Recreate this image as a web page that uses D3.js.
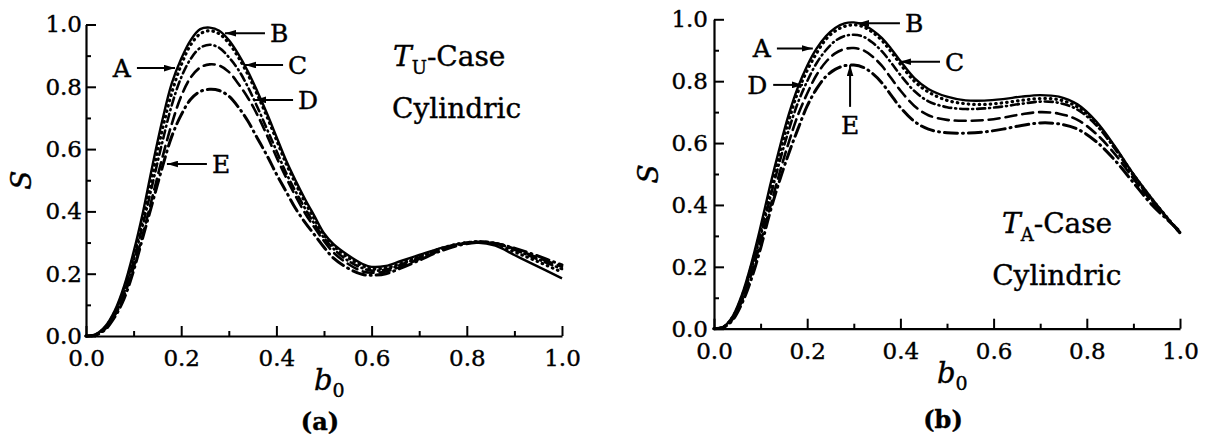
<!DOCTYPE html>
<html>
<head>
<meta charset="utf-8">
<script src="https://cdn.jsdelivr.net/npm/d3@7"></script>
<style>
  body { margin: 0; background: #fff; }
  svg text { font-family: "DejaVu Serif", "Liberation Serif", serif; fill: #000; stroke: #000; stroke-width: 0.4px; }
</style>
</head>
<body>
<svg id="chart" width="1205" height="440"></svg>
<script>
// b0 sample positions
let bLeft = [0, 0.02, 0.04, 0.06, 0.08, 0.10, 0.12, 0.14, 0.16, 0.18, 0.20, 0.22, 0.24, 0.26, 0.28, 0.30,
  0.32, 0.34, 0.36, 0.38, 0.40, 0.42, 0.44, 0.46, 0.48, 0.50, 0.52, 0.55, 0.58, 0.60, 0.63, 0.66, 0.70,
  0.74, 0.78, 0.82, 0.86, 0.90, 0.94, 1.00]
let bRight = [0, 0.02, 0.04, 0.06, 0.08, 0.10, 0.12, 0.14, 0.16, 0.18, 0.20, 0.22, 0.24, 0.26, 0.28, 0.30,
  0.32, 0.34, 0.36, 0.38, 0.40, 0.43, 0.46, 0.50, 0.54, 0.58, 0.62, 0.66, 0.70, 0.74, 0.78, 0.82, 0.86,
  0.90, 0.94, 1.00]

// (a) T_U-Case
let leftA = [0, 0.005, 0.03, 0.08, 0.16, 0.27, 0.40, 0.55, 0.69, 0.81, 0.89, 0.95, 0.985, 0.99, 0.98, 0.95,
  0.905, 0.85, 0.785, 0.715, 0.64, 0.565, 0.50, 0.44, 0.385, 0.33, 0.295, 0.26, 0.232, 0.222, 0.225, 0.24,
  0.26, 0.28, 0.295, 0.30, 0.29, 0.26, 0.23, 0.185]
let leftB = [0, 0.004, 0.027, 0.075, 0.15, 0.255, 0.38, 0.52, 0.66, 0.78, 0.87, 0.935, 0.97, 0.98, 0.97, 0.94,
  0.895, 0.84, 0.775, 0.705, 0.63, 0.555, 0.49, 0.43, 0.375, 0.325, 0.29, 0.252, 0.226, 0.216, 0.218, 0.232,
  0.255, 0.278, 0.295, 0.302, 0.295, 0.27, 0.245, 0.205]
let leftC = [0, 0.004, 0.025, 0.07, 0.14, 0.24, 0.36, 0.49, 0.62, 0.74, 0.83, 0.89, 0.925, 0.935, 0.925, 0.895,
  0.855, 0.80, 0.735, 0.665, 0.595, 0.525, 0.465, 0.41, 0.36, 0.315, 0.28, 0.242, 0.218, 0.21, 0.213, 0.228,
  0.252, 0.276, 0.294, 0.303, 0.298, 0.277, 0.252, 0.215]
let leftD = [0, 0.003, 0.022, 0.065, 0.13, 0.22, 0.33, 0.45, 0.57, 0.68, 0.77, 0.83, 0.862, 0.872, 0.868, 0.848,
  0.81, 0.765, 0.71, 0.645, 0.575, 0.51, 0.45, 0.395, 0.348, 0.305, 0.268, 0.232, 0.208, 0.203, 0.207, 0.222,
  0.247, 0.272, 0.292, 0.302, 0.298, 0.28, 0.257, 0.222]
let leftE = [0, 0.003, 0.02, 0.06, 0.12, 0.21, 0.32, 0.43, 0.54, 0.64, 0.71, 0.76, 0.785, 0.792, 0.788, 0.77,
  0.735, 0.69, 0.635, 0.58, 0.52, 0.465, 0.41, 0.365, 0.325, 0.285, 0.25, 0.218, 0.198, 0.195, 0.2, 0.217,
  0.243, 0.27, 0.29, 0.3, 0.297, 0.282, 0.262, 0.228]

// (b) T_A-Case
let rightA = [0, 0.006, 0.04, 0.11, 0.21, 0.33, 0.46, 0.58, 0.69, 0.78, 0.85, 0.905, 0.945, 0.972, 0.987, 0.99,
  0.983, 0.965, 0.94, 0.905, 0.865, 0.81, 0.775, 0.75, 0.738, 0.737, 0.742, 0.75, 0.755, 0.75, 0.725, 0.67,
  0.59, 0.50, 0.42, 0.308]
let rightB = [0, 0.005, 0.037, 0.103, 0.2, 0.315, 0.44, 0.56, 0.67, 0.765, 0.835, 0.89, 0.935, 0.962, 0.977, 0.982,
  0.976, 0.958, 0.932, 0.895, 0.855, 0.80, 0.765, 0.738, 0.727, 0.725, 0.73, 0.738, 0.744, 0.74, 0.717, 0.664,
  0.586, 0.498, 0.418, 0.31]
let rightC = [0, 0.005, 0.034, 0.097, 0.19, 0.30, 0.42, 0.535, 0.64, 0.73, 0.80, 0.858, 0.9, 0.93, 0.946, 0.95,
  0.944, 0.925, 0.897, 0.86, 0.82, 0.768, 0.735, 0.716, 0.71, 0.712, 0.718, 0.727, 0.734, 0.73, 0.708, 0.658,
  0.582, 0.494, 0.415, 0.31]
let rightD = [0, 0.004, 0.031, 0.09, 0.176, 0.28, 0.39, 0.5, 0.6, 0.69, 0.76, 0.82, 0.862, 0.89, 0.904, 0.907,
  0.9, 0.88, 0.85, 0.81, 0.77, 0.72, 0.69, 0.675, 0.672, 0.674, 0.682, 0.693, 0.70, 0.695, 0.675, 0.63,
  0.565, 0.485, 0.41, 0.312]
let rightE = [0, 0.004, 0.028, 0.082, 0.16, 0.26, 0.375, 0.475, 0.565, 0.645, 0.72, 0.775, 0.815, 0.838, 0.85, 0.852,
  0.845, 0.825, 0.795, 0.755, 0.715, 0.67, 0.645, 0.633, 0.632, 0.636, 0.645, 0.657, 0.665, 0.662, 0.645, 0.605,
  0.545, 0.472, 0.40, 0.315]

let curveNames = ['A', 'B', 'C', 'D', 'E']
let xTicks = [0, 0.2, 0.4, 0.6, 0.8, 1.0]
let yTicks = [0, 0.2, 0.4, 0.6, 0.8, 1.0]
let minorTicks = [0.1, 0.3, 0.5, 0.7, 0.9]

// arrow labels: text, arrow tail (x0,y), arrow tip (x1,y), side of text
let leftLabels = [
  { name: 'A', x0: 0.107, x1: 0.187, y: 0.860, side: 'left' },
  { name: 'B', x0: 0.376, x1: 0.292, y: 0.972, side: 'right' },
  { name: 'C', x0: 0.414, x1: 0.334, y: 0.870, side: 'right' },
  { name: 'D', x0: 0.435, x1: 0.355, y: 0.758, side: 'right' },
  { name: 'E', x0: 0.254, x1: 0.170, y: 0.552, side: 'right' }
]
let rightLabels = [
  { name: 'A', x0: 0.135, x1: 0.212, y: 0.906, side: 'left' },
  { name: 'B', x0: 0.399, x1: 0.309, y: 0.987, side: 'right' },
  { name: 'C', x0: 0.485, x1: 0.399, y: 0.863, side: 'right' },
  { name: 'D', x0: 0.127, x1: 0.191, y: 0.788, side: 'left' },
  { name: 'E', x0: 0.292, x1: 0.292, y0: 0.717, y1: 0.852, side: 'below' }
]

let styles = {
  A: { dash: null, width: 2.4 },
  B: { dash: '0.5,5', width: 3.2 },
  C: { dash: '8,4,1,4', width: 2.6 },
  D: { dash: '11,6', width: 2.6 },
  E: { dash: '13,5,1,5', width: 3 }
}

let svg = d3.select('#chart')

svg.append('defs').append('marker')
  .attr('id', 'head')
  .attr('viewBox', '0 0 10 6')
  .attr('refX', 10).attr('refY', 3)
  .attr('markerWidth', 11).attr('markerHeight', 7)
  .attr('markerUnits', 'userSpaceOnUse')
  .attr('orient', 'auto')
  .append('path')
  .attr('d', 'M0,0 L10,3 L0,6 Z')
  .attr('fill', '#000')

let drawPanel = (opts) => {
  let x = d3.scaleLinear().domain([0, 1]).range(opts.xRange)
  let y = d3.scaleLinear().domain([0, 1]).range(opts.yRange)
  let g = svg.append('g')
  let y0 = opts.yRange[0]
  let x0 = opts.xRange[0]

  // minor ticks
  g.append('g')
    .attr('transform', 'translate(0,' + y0 + ')')
    .call(d3.axisBottom(x).tickValues(minorTicks).tickSize(-5).tickFormat(''))
    .call(a => a.select('.domain').remove())
  g.append('g')
    .attr('transform', 'translate(' + x0 + ',0)')
    .call(d3.axisLeft(y).tickValues(minorTicks).tickSize(-5).tickFormat(''))
    .call(a => a.select('.domain').remove())

  g.append('g')
    .attr('transform', 'translate(0,' + y0 + ')')
    .call(d3.axisBottom(x).tickValues(xTicks).tickSize(-10).tickSizeOuter(0)
      .tickPadding(14).tickFormat(d3.format('.1f')))
  g.append('g')
    .attr('transform', 'translate(' + x0 + ',0)')
    .call(d3.axisLeft(y).tickValues(yTicks).tickSize(-10).tickSizeOuter(0)
      .tickPadding(opts.yPad).tickFormat(d3.format('.1f')))

  g.selectAll('.tick line').attr('stroke', '#000').attr('stroke-width', 2)
  g.selectAll('.domain').attr('stroke', '#000').attr('stroke-width', 2.2)
  g.selectAll('.tick text')
    .style('font-family', '"DejaVu Serif", serif')
    .style('font-size', '23px')
    .attr('fill', '#000')

  // curves
  let line = d3.line()
    .x((d) => x(d[0]))
    .y((d) => y(d[1]))
    .curve(d3.curveCatmullRom.alpha(0.5))

  curveNames.forEach((name, i) => {
    let pts = opts.b.map((b, k) => [b, opts.series[i][k]])
    g.append('path')
      .attr('d', line(pts))
      .attr('fill', 'none')
      .attr('stroke', '#000')
      .attr('stroke-width', styles[name].width)
      .attr('stroke-linecap', name === 'A' ? 'butt' : 'round')
      .attr('stroke-dasharray', styles[name].dash)
  })

  // arrow labels
  opts.labels.forEach((d) => {
    if (d.side === 'below') {
      g.append('line')
        .attr('x1', x(d.x0)).attr('y1', y(d.y0))
        .attr('x2', x(d.x1)).attr('y2', y(d.y1))
        .attr('stroke', '#000').attr('stroke-width', 2)
        .attr('marker-end', 'url(#head)')
      g.append('text')
        .attr('x', x(d.x0))
        .attr('y', y(d.y0) + 27)
        .attr('text-anchor', 'middle')
        .style('font-size', '25px')
        .text(d.name)
      return
    }
    g.append('line')
      .attr('x1', x(d.x0)).attr('y1', y(d.y))
      .attr('x2', x(d.x1)).attr('y2', y(d.y))
      .attr('stroke', '#000').attr('stroke-width', 2)
      .attr('marker-end', 'url(#head)')
    g.append('text')
      .attr('x', d.side === 'left' ? x(d.x0) - 6 : x(d.x0) + 5)
      .attr('y', y(d.y) + 9)
      .attr('text-anchor', d.side === 'left' ? 'end' : 'start')
      .style('font-size', '25px')
      .text(d.name)
  })

  // case text
  let t = g.append('text')
    .attr('x', x(opts.caseAt[0]))
    .attr('y', y(opts.caseAt[1]))
    .style('font-size', '28px')
  t.append('tspan').style('font-style', 'italic').text('T')
  t.append('tspan').attr('dy', 8).style('font-size', '18px').text(opts.sub)
  t.append('tspan').attr('dy', -8).text('-Case')
  g.append('text')
    .attr('x', x(opts.cylAt[0]))
    .attr('y', y(opts.cylAt[1]))
    .style('font-size', '28px')
    .text('Cylindric')

  // axis titles
  let cx = (opts.xRange[0] + opts.xRange[1]) / 2
  let bt = g.append('text')
    .attr('x', cx - 10)
    .attr('y', y0 + 54)
    .style('font-size', '29px')
  bt.append('tspan').style('font-style', 'italic').text('b')
  bt.append('tspan').attr('dy', 7).style('font-size', '19px').text('0')

  let cy = (opts.yRange[0] + opts.yRange[1]) / 2
  g.append('text')
    .attr('transform', 'translate(' + (opts.sX) + ',' + cy + ') rotate(-90)')
    .attr('text-anchor', 'middle')
    .style('font-size', '28px')
    .style('font-style', 'italic')
    .text('S')

  g.append('text')
    .attr('x', cx - 4)
    .attr('y', opts.panelY)
    .attr('text-anchor', 'middle')
    .style('font-size', '24px')
    .style('font-weight', 'bold')
    .text(opts.panel)
}

drawPanel({
  xRange: [86, 562], yRange: [336, 24.5], yPad: 4,
  b: bLeft, series: [leftA, leftB, leftC, leftD, leftE],
  labels: leftLabels, sub: 'U', caseAt: [0.645, 0.867], cylAt: [0.643, 0.70],
  sX: 31, panel: '(a)', panelY: 430
})
drawPanel({
  xRange: [714, 1180], yRange: [328.7, 19.3], yPad: 6,
  b: bRight, series: [rightA, rightB, rightC, rightD, rightE],
  labels: rightLabels, sub: 'A', caseAt: [0.618, 0.309], cylAt: [0.597, 0.141],
  sX: 658, panel: '(b)', panelY: 428
})
</script>
</body>
</html>
